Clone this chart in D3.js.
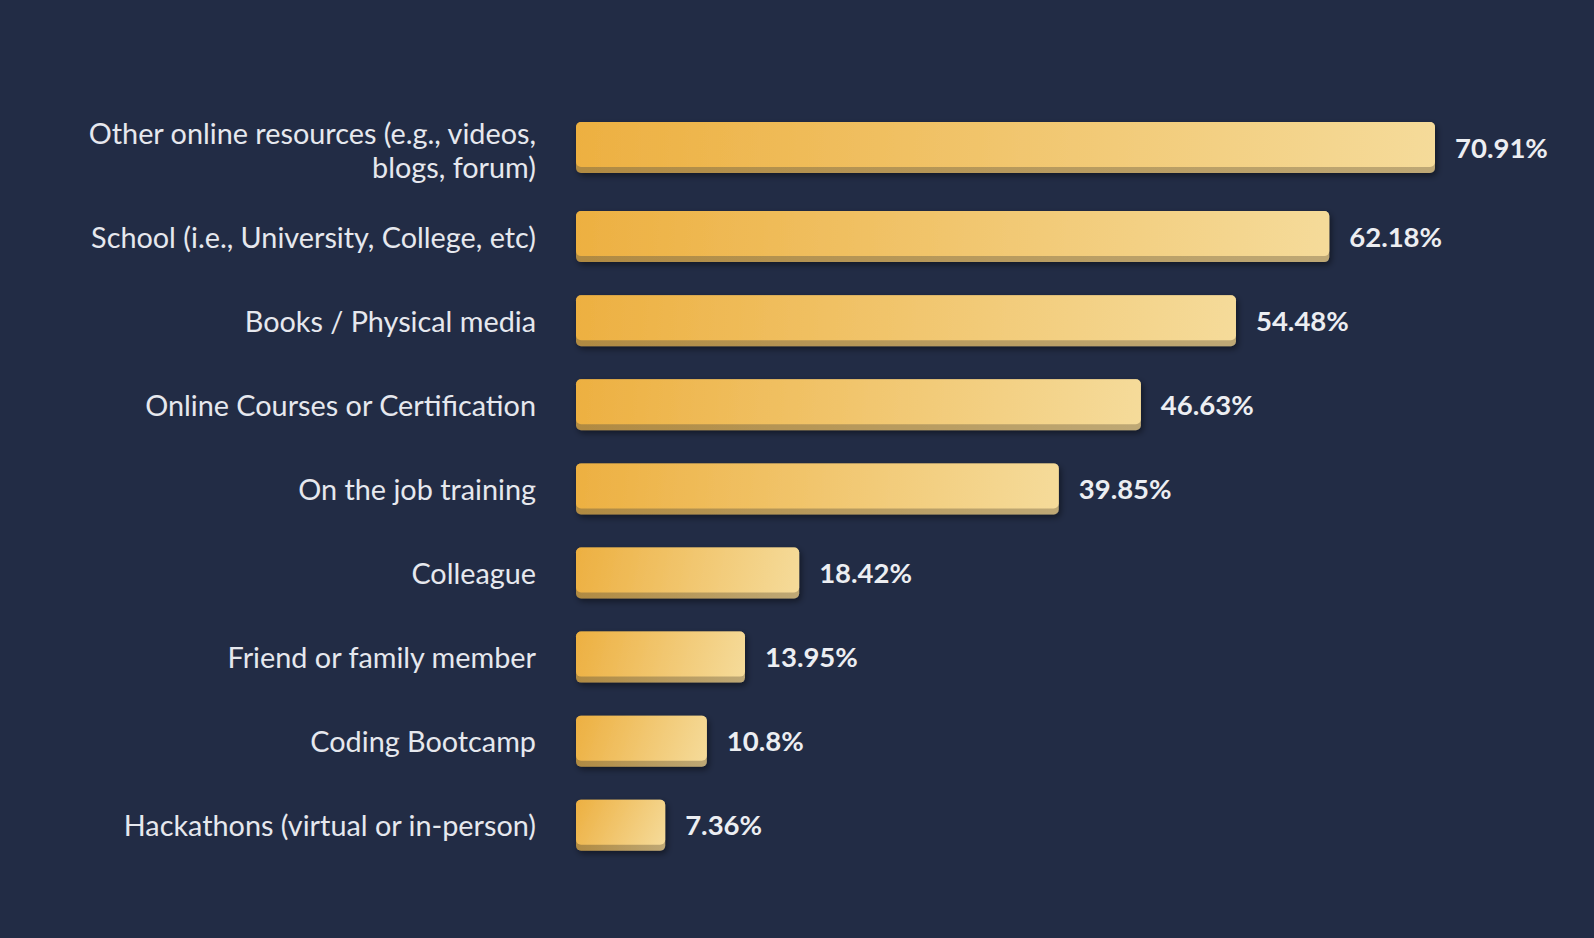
<!DOCTYPE html>
<html>
<head>
<meta charset="utf-8">
<script src="https://cdn.jsdelivr.net/npm/d3@7"></script>
<style>
  html, body { margin: 0; padding: 0; background: #222c45; }
  svg { display: block; }
</style>
</head>
<body>
<svg id="chart" width="1594" height="938"></svg>
<script>
(function () {
  "use strict";

  var categories = [
    "Other online resources (e.g., videos,\nblogs, forum)",
    "School (i.e., University, College, etc)",
    "Books / Physical media",
    "Online Courses or Certification",
    "On the job training",
    "Colleague",
    "Friend or family member",
    "Coding Bootcamp",
    "Hackathons (virtual or in-person)"
  ];
  var values = [70.91, 62.18, 54.48, 46.63, 39.85, 18.42, 13.95, 10.8, 7.36];

  var svg = d3.select("#chart");
  var defs = svg.append("defs");

  var shadow = defs.append("filter").attr("id", "shadow")
      .attr("x", "-10%").attr("y", "-30%").attr("width", "130%").attr("height", "170%");
  shadow.append("feDropShadow").attr("dx", 2).attr("dy", 3)
      .attr("stdDeviation", 3).attr("flood-color", "#000").attr("flood-opacity", 0.45);

  var x0 = 576;
  var x = d3.scaleLinear().domain([0, 70.91]).range([0, 859]);

  var barH = 51, faceH = 45, step = 84.1;
  var y = d3.scaleBand().domain(categories)
      .range([122, 122 + step * 8 + barH])
      .paddingInner(1 - barH / step).paddingOuter(0);

  // rows after a wrapped label get pushed down a bit
  var extra = 0, offsets = categories.map(function (c) {
    var o = extra;
    extra += (c.split("\n").length - 1) * 5;
    return o;
  });
  function top(d, i) { return y(d) + offsets[i]; }

  // one gradient pair per bar, running corner to corner in real pixels
  values.forEach(function (v, i) {
    var w = x(v);
    var f = defs.append("linearGradient").attr("id", "face" + i)
        .attr("gradientUnits", "userSpaceOnUse")
        .attr("x1", x0).attr("y1", 0).attr("x2", x0 + w).attr("y2", faceH);
    f.append("stop").attr("offset", "0%").attr("stop-color", "#edb041");
    f.append("stop").attr("offset", "100%").attr("stop-color", "#f5db9a");
    var e = defs.append("linearGradient").attr("id", "edge" + i)
        .attr("gradientUnits", "userSpaceOnUse")
        .attr("x1", x0).attr("y1", 0).attr("x2", x0 + w).attr("y2", 0);
    e.append("stop").attr("offset", "0%").attr("stop-color", "#b08a42");
    e.append("stop").attr("offset", "100%").attr("stop-color", "#bea875");
  });

  var rows = svg.append("g").selectAll("g.row")
      .data(categories).enter().append("g").attr("class", "row")
      .attr("transform", function (d, i) { return "translate(0," + top(d, i) + ")"; });

  var bars = rows.append("g").attr("filter", "url(#shadow)");
  bars.append("rect")
      .attr("x", x0).attr("y", 0)
      .attr("width", function (d, i) { return x(values[i]); })
      .attr("height", barH).attr("rx", 5)
      .attr("fill", function (d, i) { return "url(#edge" + i + ")"; });
  bars.append("rect")
      .attr("x", x0).attr("y", 0)
      .attr("width", function (d, i) { return x(values[i]); })
      .attr("height", faceH).attr("rx", 5)
      .attr("fill", function (d, i) { return "url(#face" + i + ")"; });

  rows.append("text")
      .attr("x", function (d, i) { return x0 + x(values[i]) + 20; })
      .attr("y", barH / 2 - 0.5)
      .attr("dominant-baseline", "central")
      .style("font-family", "Lato, sans-serif")
      .style("font-weight", 700)
      .style("font-size", "27.5px")
      .style("fill", "#eceef2")
      .text(function (d, i) { return values[i] + "%"; });

  var lineH = 34;
  rows.append("text")
      .attr("text-anchor", "end")
      .style("font-family", "Lato, sans-serif")
      .style("font-size", "28.8px")
      .style("fill", "#e6e8ee")
      .each(function (d) {
        var lines = d.split("\n");
        var t = d3.select(this);
        var start = barH / 2 + (lines.length > 1 ? 2 : 0) - (lines.length - 1) * lineH / 2;
        lines.forEach(function (l, k) {
          t.append("tspan").attr("x", 536).attr("y", start + k * lineH)
              .attr("dominant-baseline", "central").text(l);
        });
      });
}());
</script>
</body>
</html>
